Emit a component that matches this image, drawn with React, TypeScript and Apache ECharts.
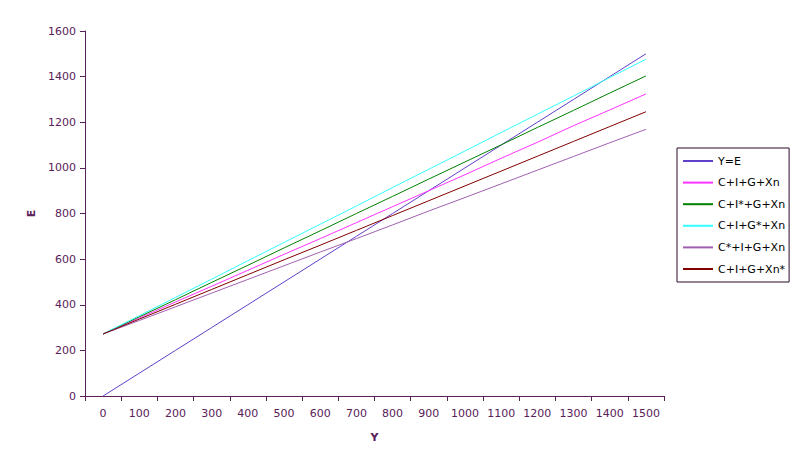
import React, { useEffect, useRef } from "react";
import * as echarts from "echarts";

const categories = ["0", "100", "200", "300", "400", "500", "600", "700", "800", "900", "1000", "1100", "1200", "1300", "1400", "1500"];
const yTicks = { min: 0, max: 1600, interval: 200 };

const seriesNames = ["Y=E", "C+I+G+Xn", "C+I*+G+Xn", "C+I+G*+Xn", "C*+I+G+Xn", "C+I+G+Xn*"];
const yEqualsE = [0, 100, 200, 300, 400, 500, 600, 700, 800, 900, 1000, 1100, 1200, 1300, 1400, 1500];
const cigxn = [272, 342, 412, 481, 551, 621, 690, 760, 830, 900, 970, 1042, 1112, 1185, 1254, 1324];
const cigxnI = [272, 347, 422, 498, 573, 649, 724, 800, 875, 951, 1026, 1101, 1177, 1252, 1328, 1403];
const cigxnG = [272, 352, 432, 512, 593, 673, 753, 833, 914, 994, 1074, 1155, 1235, 1315, 1396, 1476];
const cigxnC = [272, 331, 391, 451, 511, 571, 631, 690, 750, 811, 870, 930, 990, 1050, 1110, 1169];
const cigxnX = [272, 337, 402, 467, 532, 597, 661, 726, 791, 856, 921, 986, 1051, 1116, 1181, 1246];

const seriesData = [yEqualsE, cigxn, cigxnI, cigxnG, cigxnC, cigxnX];
const seriesColors = ["#6040c8", "#ff33ff", "#008000", "#33ffff", "#a060b0", "#800000"];

export default function App() {
  const ref = useRef<HTMLDivElement>(null);
  useEffect(() => {
    if (!ref.current) return;
    const chart = echarts.init(ref.current, null, { renderer: "svg" });
    const axisColor = "#5a205a";
    const font = "DejaVu Sans";
    chart.setOption({
      animation: false,
      backgroundColor: "#ffffff",
      textStyle: { fontFamily: font },
      grid: { left: 85, right: 136, top: 31, bottom: 77, containLabel: false },
      legend: {
        orient: "vertical",
        left: 677,
        top: 148,
        padding: [6, 4, 6, 6],
        icon: "rect",
        itemWidth: 30,
        itemHeight: 2,
        itemGap: 7.6,
        borderColor: "#2a0a2a",
        borderWidth: 1,
        backgroundColor: "#ffffff",
        textStyle: { fontFamily: font, fontSize: 11, color: "#000000", lineHeight: 14 },
        data: seriesNames,
      },
      xAxis: {
        type: "category",
        data: categories,
        boundaryGap: true,
        name: "Y",
        nameLocation: "middle",
        nameGap: 36,
        nameTextStyle: { fontFamily: font, fontSize: 11, fontWeight: "bold", color: axisColor },
        axisLine: { lineStyle: { color: axisColor, width: 1 } },
        axisTick: { show: true, length: 5, inside: false, lineStyle: { color: axisColor }, interval: 0 },
        axisLabel: { fontFamily: font, fontSize: 11, color: axisColor, margin: 12, interval: 0 },
        splitLine: { show: false },
      },
      yAxis: {
        type: "value",
        min: yTicks.min,
        max: yTicks.max,
        interval: yTicks.interval,
        name: "E",
        nameLocation: "middle",
        nameGap: 46,
        nameTextStyle: { fontFamily: font, fontSize: 11, fontWeight: "bold", color: axisColor },
        axisLine: { show: true, lineStyle: { color: axisColor, width: 1 } },
        axisTick: { show: true, length: 5, inside: false, lineStyle: { color: axisColor } },
        axisLabel: { fontFamily: font, fontSize: 11, color: axisColor, margin: 9, formatter: (v: number) => String(v) },
        splitLine: { show: false },
      },
      series: seriesNames.map((name, i) => ({
        name,
        type: "line",
        data: seriesData[i],
        symbol: "none",
        showSymbol: false,
        lineStyle: { width: 1, color: seriesColors[i] },
        itemStyle: { color: seriesColors[i] },
      })),
    });
    return () => chart.dispose();
  }, []);
  return <div ref={ref} style={{ position: "fixed", left: 0, top: 0, width: 800, height: 473 }} />;
}
